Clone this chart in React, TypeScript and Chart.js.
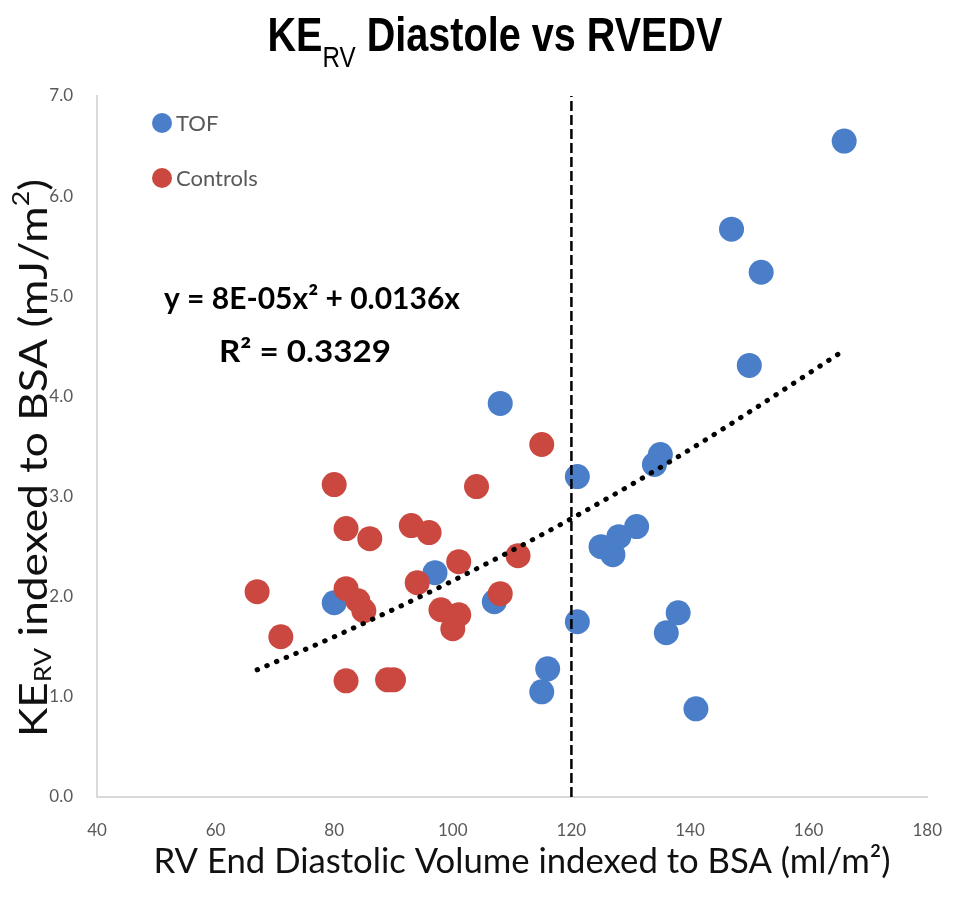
import React, { useEffect, useRef } from "react";
import { Chart, registerables } from "chart.js";

Chart.register(...registerables);

// ---- data ----
const tofX = [166, 147, 152, 150, 134, 135, 131, 125, 127, 128, 121, 121, 138, 136, 141, 116, 115, 107, 97, 80, 108];
const tofY = [6.55, 5.67, 5.24, 4.31, 3.32, 3.42, 2.7, 2.5, 2.42, 2.6, 3.2, 1.75, 1.84, 1.64, 0.88, 1.28, 1.05, 1.95, 2.24, 1.94, 3.93];

const controlX = [115, 80, 104, 82, 86, 93, 96, 101, 94, 111, 67, 82, 84, 85, 108, 98, 101, 100, 71, 82, 89, 90];
const controlY = [3.52, 3.12, 3.1, 2.68, 2.58, 2.71, 2.64, 2.35, 2.14, 2.41, 2.05, 2.08, 1.96, 1.86, 2.03, 1.87, 1.82, 1.68, 1.6, 1.16, 1.17, 1.17];

const trendX = [67, 80, 100, 120, 140, 166];
const trendY = [1.27, 1.6, 2.16, 2.78, 3.47, 4.46];

const cutoffX = [120, 120];
const cutoffY = [0, 7];

const xTicks = [40, 60, 80, 100, 120, 140, 160, 180];
const yTicks = [0, 1, 2, 3, 4, 5, 6, 7];

const seriesNames = ["TOF", "Controls"];
const titleMain = "KE";
const titleSub = "RV";
const titleRest = " Diastole vs RVEDV";
const yTitleMain = "KE";
const yTitleSub = "RV";
const yTitleRest = " indexed to BSA (mJ/m";
const yTitleSup = "2";
const yTitleEnd = ")";
const xTitle = "RV End Diastolic Volume indexed to BSA (ml/m\u00B2)";
const equationLine1 = "y = 8E-05x\u00B2 + 0.0136x";
const equationLine2 = "R\u00B2 = 0.3329";

const BLUE = "#4a7ec8";
const RED = "#ca483f";
const BODY_FONT = 'Lato, "Open Sans", sans-serif';
const TITLE_FONT = '"Liberation Sans", Arial, sans-serif';

type Seg = { t: string; f: string; dy: number };

// draws segments centered at (cx, cy) in the current orientation, fitted to a target length
function drawFitted(ctx: CanvasRenderingContext2D, segs: Seg[], cx: number, cy: number, target: number, rot: number) {
  let total = 0;
  const widths = segs.map((s) => {
    ctx.font = s.f;
    const w = ctx.measureText(s.t).width;
    total += w;
    return w;
  });
  const k = target / total;
  ctx.save();
  ctx.translate(cx, cy);
  ctx.rotate(rot);
  ctx.scale(k, 1);
  let x = -total / 2;
  segs.forEach((s, i) => {
    ctx.font = s.f;
    ctx.fillText(s.t, x, s.dy);
    x += widths[i];
  });
  ctx.restore();
}

const textPlugin = {
  id: "customTexts",
  afterDraw(chart: any) {
    const ctx: CanvasRenderingContext2D = chart.ctx;
    ctx.save();
    ctx.textAlign = "left";

    // ---- Title with subscript ----
    ctx.fillStyle = "#000";
    ctx.textBaseline = "alphabetic";
    drawFitted(
      ctx,
      [
        { t: titleMain, f: `bold 49px ${TITLE_FONT}`, dy: 0 },
        { t: titleSub, f: `30px ${TITLE_FONT}`, dy: 16 },
        { t: titleRest, f: `bold 49px ${TITLE_FONT}`, dy: 0 },
      ],
      487,
      43,
      455,
      0
    );

    // ---- Y axis title (rotated) ----
    ctx.fillStyle = "#111";
    ctx.textBaseline = "middle";
    drawFitted(
      ctx,
      [
        { t: yTitleMain, f: `38px ${BODY_FONT}`, dy: 0 },
        { t: yTitleSub, f: `23px ${BODY_FONT}`, dy: 9 },
        { t: yTitleRest, f: `38px ${BODY_FONT}`, dy: 0 },
        { t: yTitleSup, f: `23px ${BODY_FONT}`, dy: -13 },
        { t: yTitleEnd, f: `38px ${BODY_FONT}`, dy: 0 },
      ],
      27,
      450,
      558,
      -Math.PI / 2
    );

    // ---- X axis title ----
    drawFitted(ctx, [{ t: xTitle, f: `35px ${BODY_FONT}`, dy: 0 }], 514, 854, 737, 0);

    // ---- Legend ----
    const legendColors = [BLUE, RED];
    const legendY = [115, 170];
    ctx.font = `22px ${BODY_FONT}`;
    ctx.textAlign = "left";
    seriesNames.forEach((name, i) => {
      ctx.beginPath();
      ctx.fillStyle = legendColors[i];
      ctx.arc(154, legendY[i], 10, 0, Math.PI * 2);
      ctx.fill();
      ctx.fillStyle = "#595959";
      ctx.fillText(name, 168, legendY[i] + 1);
    });

    // ---- Trendline equation ----
    ctx.fillStyle = "#000";
    drawFitted(ctx, [{ t: equationLine1, f: `bold 30px ${BODY_FONT}`, dy: 0 }], 304, 291, 296, 0);
    drawFitted(ctx, [{ t: equationLine2, f: `bold 30px ${BODY_FONT}`, dy: 0 }], 297, 344, 172, 0);

    ctx.restore();
  },
};

export default function App() {
  const canvasRef = useRef<HTMLCanvasElement | null>(null);

  useEffect(() => {
    if (!canvasRef.current) return;
    const chart = new Chart(canvasRef.current, {
      type: "scatter",
      data: {
        datasets: [
          {
            label: "Trendline",
            type: "line",
            data: trendX.map((x, i) => ({ x, y: trendY[i] })),
            borderColor: "#000",
            borderWidth: 5,
            borderDash: [0.5, 10],
            borderCapStyle: "round",
            cubicInterpolationMode: "monotone",
            pointRadius: 0,
            fill: false,
            order: 0,
          } as any,
          {
            label: "Cutoff",
            type: "line",
            data: cutoffX.map((x, i) => ({ x, y: cutoffY[i] })),
            borderColor: "#000",
            borderWidth: 2.5,
            borderDash: [10, 4],
            pointRadius: 0,
            fill: false,
            order: 0,
          } as any,
          {
            label: seriesNames[1],
            data: controlX.map((x, i) => ({ x, y: controlY[i] })),
            backgroundColor: RED,
            borderColor: RED,
            borderWidth: 0,
            pointRadius: 12.5,
            order: 1,
          },
          {
            label: seriesNames[0],
            data: tofX.map((x, i) => ({ x, y: tofY[i] })),
            backgroundColor: BLUE,
            borderColor: BLUE,
            borderWidth: 0,
            pointRadius: 12.5,
            order: 2,
          },
        ],
      },
      options: {
        animation: false,
        responsive: true,
        maintainAspectRatio: false,
        layout: { padding: { top: 88, right: 15, bottom: 0, left: 0 } },
        plugins: {
          legend: { display: false },
          tooltip: { enabled: false },
          title: { display: false },
        },
        scales: {
          x: {
            type: "linear",
            min: xTicks[0],
            max: xTicks[xTicks.length - 1],
            afterBuildTicks: (scale: any) => {
              scale.ticks = xTicks.map((v) => ({ value: v }));
            },
            afterFit: (scale: any) => {
              scale.height = 103;
            },
            grid: { display: false },
            border: { display: true, color: "#d9d9d9", width: 2 },
            ticks: {
              color: "#595959",
              font: { family: BODY_FONT, size: 17 },
              padding: 15,
              maxRotation: 0,
            },
          },
          y: {
            type: "linear",
            min: yTicks[0],
            max: yTicks[yTicks.length - 1],
            afterBuildTicks: (scale: any) => {
              scale.ticks = yTicks.map((v) => ({ value: v }));
            },
            afterFit: (scale: any) => {
              scale.width = 89;
            },
            grid: { display: false },
            border: { display: true, color: "#d9d9d9", width: 2 },
            ticks: {
              color: "#595959",
              font: { family: BODY_FONT, size: 17 },
              padding: 16,
              callback: (v: any) => Number(v).toFixed(1),
            },
          },
        },
      } as any,
      plugins: [textPlugin],
    });
    return () => chart.destroy();
  }, []);

  return (
    <div style={{ width: 949, height: 892, position: "relative" }}>
      <canvas ref={canvasRef} />
    </div>
  );
}
